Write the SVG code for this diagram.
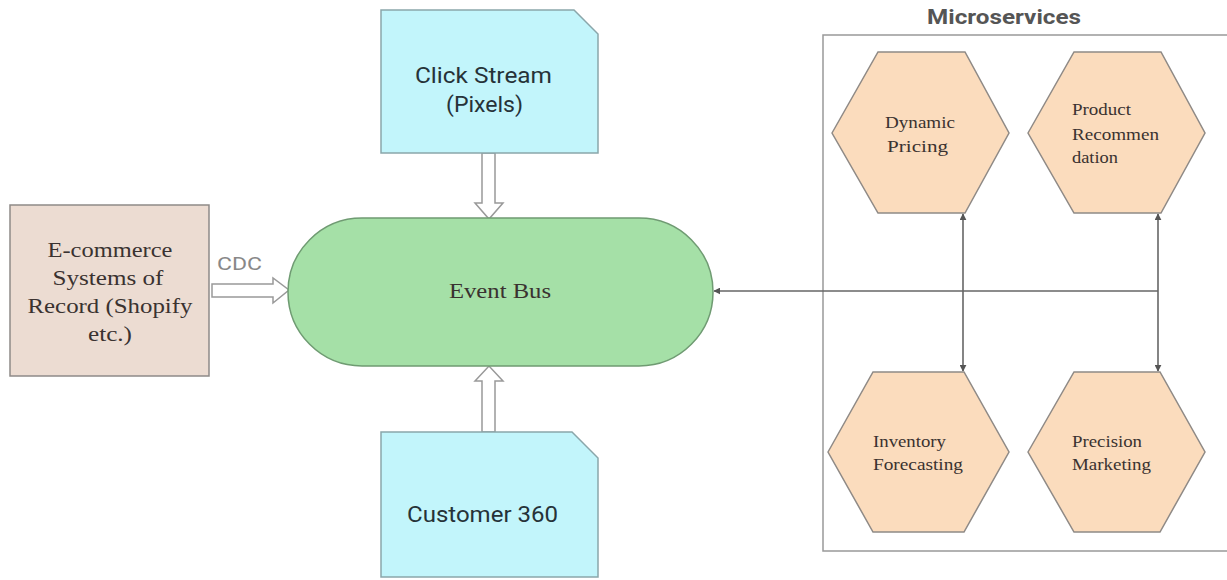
<svg xmlns="http://www.w3.org/2000/svg" width="1227" height="580" viewBox="0 0 1227 580">
<style>
.serif{font-family:"Liberation Serif","Times New Roman",serif;fill:#3a3230}
.sans{font-family:Roboto,"Liberation Sans",Arial,sans-serif;fill:#263238}
.doc{fill:#c2f5fb;stroke:#8aa6aa;stroke-width:1.5}
.hex{fill:#fbdcbd;stroke:#8f8a86;stroke-width:1.5}
.block{fill:#fff;stroke:#999;stroke-width:1.5}
.conn{stroke:#666;stroke-width:1.6;fill:none}
</style>
<defs>
<marker id="ah" viewBox="0 0 10 10" refX="9" refY="5" markerWidth="7" markerHeight="7" orient="auto-start-reverse" markerUnits="userSpaceOnUse">
<path d="M0,0 L10,5 L0,10 z" fill="#555"/>
</marker>
</defs>
<rect width="1227" height="580" fill="#fff"/>

<g id="microservices-box">
<rect x="823" y="35" width="410" height="516" fill="none" stroke="#999" stroke-width="1.5"/>
<text x="1004" y="24" text-anchor="middle" font-family="Roboto,'Liberation Sans',Arial,sans-serif" font-weight="bold" font-size="20" fill="#555" textLength="154" lengthAdjust="spacingAndGlyphs">Microservices</text>
</g>

<g id="connectors">
<path class="block" d="M212,284 L273,284 L273,278 L289,290 L273,303 L273,297 L212,297 Z"/>
<text x="239.5" y="270" text-anchor="middle" font-family="Roboto,'Liberation Sans',Arial,sans-serif" font-size="19" fill="#888" textLength="45" lengthAdjust="spacingAndGlyphs">CDC</text>
<path class="block" d="M482,153 L482,203 L475,203 L489,219 L503,203 L495,203 L495,153 Z"/>
<path class="block" d="M482,432 L482,381 L475,381 L489,366 L503,381 L495,381 L495,432 Z"/>
<line class="conn" x1="1158" y1="291" x2="714" y2="291" marker-end="url(#ah)"/>
<line class="conn" x1="963" y1="214" x2="963" y2="371" marker-start="url(#ah)" marker-end="url(#ah)"/>
<line class="conn" x1="1158" y1="214" x2="1158" y2="371" marker-start="url(#ah)" marker-end="url(#ah)"/>
</g>

<g id="ecommerce">
<rect x="10" y="205" width="199" height="171" fill="#ecdcd2" stroke="#8e8a88" stroke-width="1.5"/>
<text class="serif" font-size="21" text-anchor="middle" lengthAdjust="spacingAndGlyphs"><tspan x="110" y="257" textLength="125" lengthAdjust="spacingAndGlyphs">E-commerce</tspan><tspan x="108" y="285" textLength="111" lengthAdjust="spacingAndGlyphs">Systems of</tspan><tspan x="110" y="313" textLength="165" lengthAdjust="spacingAndGlyphs">Record (Shopify</tspan><tspan x="110" y="341" textLength="44" lengthAdjust="spacingAndGlyphs">etc.)</tspan></text>
</g>

<g id="event-bus">
<rect x="288" y="218" width="425" height="148" rx="74" ry="74" fill="#a5e0a7" stroke="#6f9b72" stroke-width="1.5"/>
<text class="serif" x="500" y="298" font-size="20" text-anchor="middle" textLength="102" lengthAdjust="spacingAndGlyphs">Event Bus</text>
</g>

<g id="click-stream">
<path class="doc" d="M381,10 L574,10 L598,34 L598,153 L381,153 Z"/>
<text class="sans" font-size="22" text-anchor="middle"><tspan x="483.5" y="83" textLength="137" lengthAdjust="spacingAndGlyphs">Click Stream</tspan><tspan x="484.5" y="112" textLength="77" lengthAdjust="spacingAndGlyphs">(Pixels)</tspan></text>
</g>

<g id="customer-360">
<path class="doc" d="M381,432 L572,432 L598,458 L598,577 L381,577 Z"/>
<text class="sans" x="482.5" y="522" font-size="22" text-anchor="middle" textLength="151" lengthAdjust="spacingAndGlyphs">Customer 360</text>
</g>

<g id="dynamic-pricing">
<polygon class="hex" points="832,133 878,52 965,52 1009,133 965,213 878,213"/>
<text class="serif" font-size="17"><tspan x="885" y="128" textLength="70" lengthAdjust="spacingAndGlyphs">Dynamic</tspan><tspan x="887" y="152" textLength="61" lengthAdjust="spacingAndGlyphs">Pricing</tspan></text>
</g>

<g id="product-recommendation">
<polygon class="hex" points="1028,133 1074,52 1161,52 1205,133 1161,213 1074,213"/>
<text class="serif" font-size="17"><tspan x="1072" y="115" textLength="59" lengthAdjust="spacingAndGlyphs">Product</tspan><tspan x="1072" y="140" textLength="87" lengthAdjust="spacingAndGlyphs">Recommen</tspan><tspan x="1072" y="163" textLength="46" lengthAdjust="spacingAndGlyphs">dation</tspan></text>
</g>

<g id="inventory-forecasting">
<polygon class="hex" points="828,452 873,372 964,372 1009,452 964,532 873,532"/>
<text class="serif" font-size="17"><tspan x="873" y="447" textLength="73" lengthAdjust="spacingAndGlyphs">Inventory</tspan><tspan x="873" y="470" textLength="90" lengthAdjust="spacingAndGlyphs">Forecasting</tspan></text>
</g>

<g id="precision-marketing">
<polygon class="hex" points="1028,452 1074,372 1160,372 1205,452 1160,532 1074,532"/>
<text class="serif" font-size="17"><tspan x="1072" y="447" textLength="70" lengthAdjust="spacingAndGlyphs">Precision</tspan><tspan x="1072" y="470" textLength="79" lengthAdjust="spacingAndGlyphs">Marketing</tspan></text>
</g>
</svg>
